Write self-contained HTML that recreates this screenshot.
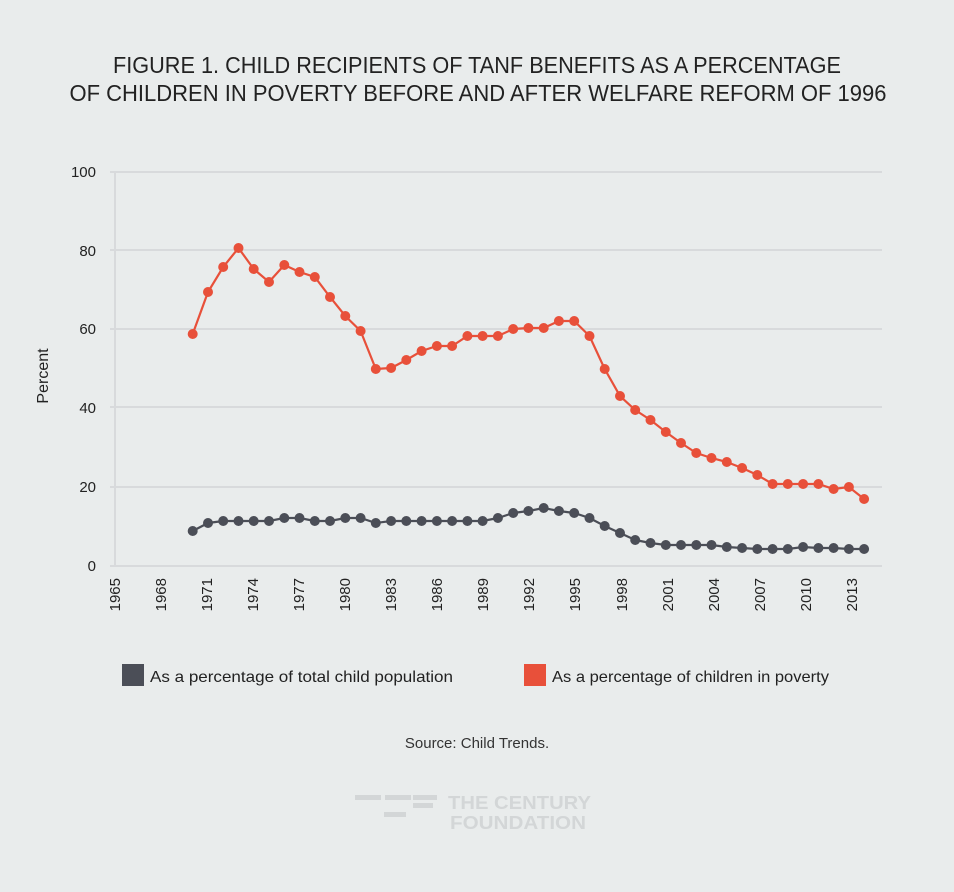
<!DOCTYPE html>
<html><head><meta charset="utf-8"><style>
html,body{margin:0;padding:0;background:#e9ecec;}
svg{display:block;font-family:"Liberation Sans",sans-serif;}
</style></head><body>
<svg width="954" height="892" viewBox="0 0 954 892" xmlns="http://www.w3.org/2000/svg">
<rect width="954" height="892" fill="#e9ecec"/>
<text x="477" y="73" text-anchor="middle" font-size="23" fill="#222" textLength="728" lengthAdjust="spacingAndGlyphs">FIGURE 1. CHILD RECIPIENTS OF TANF BENEFITS AS A PERCENTAGE</text>
<text x="478" y="101" text-anchor="middle" font-size="23" fill="#222" textLength="817" lengthAdjust="spacingAndGlyphs">OF CHILDREN IN POVERTY BEFORE AND AFTER WELFARE REFORM OF 1996</text>
<g stroke="#d8dadc" stroke-width="2">
<line x1="110" y1="172" x2="882" y2="172"/>
<line x1="110" y1="250" x2="882" y2="250"/>
<line x1="110" y1="329" x2="882" y2="329"/>
<line x1="110" y1="407" x2="882" y2="407"/>
<line x1="110" y1="487" x2="882" y2="487"/>
<line x1="110" y1="566" x2="882" y2="566"/>
<line x1="115" y1="172" x2="115" y2="566"/>
</g>
<g font-size="15" fill="#222" text-anchor="end">
<text x="96" y="177">100</text><text x="96" y="256">80</text><text x="96" y="334">60</text>
<text x="96" y="413">40</text><text x="96" y="492">20</text><text x="96" y="571">0</text>
</g>
<text transform="translate(48,376) rotate(-90)" font-size="16" text-anchor="middle" fill="#222">Percent</text>
<g font-size="15" fill="#222" text-anchor="end">
<text transform="translate(120,578) rotate(-90)">1965</text>
<text transform="translate(166,578) rotate(-90)">1968</text>
<text transform="translate(212,578) rotate(-90)">1971</text>
<text transform="translate(258,578) rotate(-90)">1974</text>
<text transform="translate(304,578) rotate(-90)">1977</text>
<text transform="translate(350,578) rotate(-90)">1980</text>
<text transform="translate(396,578) rotate(-90)">1983</text>
<text transform="translate(442,578) rotate(-90)">1986</text>
<text transform="translate(488,578) rotate(-90)">1989</text>
<text transform="translate(534,578) rotate(-90)">1992</text>
<text transform="translate(580,578) rotate(-90)">1995</text>
<text transform="translate(627,578) rotate(-90)">1998</text>
<text transform="translate(673,578) rotate(-90)">2001</text>
<text transform="translate(719,578) rotate(-90)">2004</text>
<text transform="translate(765,578) rotate(-90)">2007</text>
<text transform="translate(811,578) rotate(-90)">2010</text>
<text transform="translate(857,578) rotate(-90)">2013</text>
</g>
<g id="red" fill="#e8503a" stroke="#e8503a">
<polyline fill="none" stroke-width="2.2" points="192.7,334 208.0,292 223.2,267 238.5,248 253.7,269 269.0,282 284.3,265 299.5,272 314.8,277 330.0,297 345.3,316 360.6,331 375.8,369 391.1,368 406.3,360 421.6,351 436.9,346 452.1,346 467.4,336 482.6,336 497.9,336 513.2,329 528.4,328 543.7,328 558.9,321 574.2,321 589.5,336 604.7,369 620.0,396 635.2,410 650.5,420 665.8,432 681.0,443 696.3,453 711.5,458 726.8,462 742.1,468 757.3,475 772.6,484 787.8,484 803.1,484 818.4,484 833.6,489 848.9,487 864.1,499"/>
<g stroke="none">
<circle cx="192.7" cy="334" r="5"/><circle cx="208.0" cy="292" r="5"/><circle cx="223.2" cy="267" r="5"/><circle cx="238.5" cy="248" r="5"/><circle cx="253.7" cy="269" r="5"/><circle cx="269.0" cy="282" r="5"/><circle cx="284.3" cy="265" r="5"/><circle cx="299.5" cy="272" r="5"/><circle cx="314.8" cy="277" r="5"/><circle cx="330.0" cy="297" r="5"/><circle cx="345.3" cy="316" r="5"/><circle cx="360.6" cy="331" r="5"/><circle cx="375.8" cy="369" r="5"/><circle cx="391.1" cy="368" r="5"/><circle cx="406.3" cy="360" r="5"/><circle cx="421.6" cy="351" r="5"/><circle cx="436.9" cy="346" r="5"/><circle cx="452.1" cy="346" r="5"/><circle cx="467.4" cy="336" r="5"/><circle cx="482.6" cy="336" r="5"/><circle cx="497.9" cy="336" r="5"/><circle cx="513.2" cy="329" r="5"/><circle cx="528.4" cy="328" r="5"/><circle cx="543.7" cy="328" r="5"/><circle cx="558.9" cy="321" r="5"/><circle cx="574.2" cy="321" r="5"/><circle cx="589.5" cy="336" r="5"/><circle cx="604.7" cy="369" r="5"/><circle cx="620.0" cy="396" r="5"/><circle cx="635.2" cy="410" r="5"/><circle cx="650.5" cy="420" r="5"/><circle cx="665.8" cy="432" r="5"/><circle cx="681.0" cy="443" r="5"/><circle cx="696.3" cy="453" r="5"/><circle cx="711.5" cy="458" r="5"/><circle cx="726.8" cy="462" r="5"/><circle cx="742.1" cy="468" r="5"/><circle cx="757.3" cy="475" r="5"/><circle cx="772.6" cy="484" r="5"/><circle cx="787.8" cy="484" r="5"/><circle cx="803.1" cy="484" r="5"/><circle cx="818.4" cy="484" r="5"/><circle cx="833.6" cy="489" r="5"/><circle cx="848.9" cy="487" r="5"/><circle cx="864.1" cy="499" r="5"/>
</g></g>
<g fill="#4b4e57" stroke="#4b4e57">
<polyline fill="none" stroke-width="2.2" points="192.7,531 208.0,523 223.2,521 238.5,521 253.7,521 269.0,521 284.3,518 299.5,518 314.8,521 330.0,521 345.3,518 360.6,518 375.8,523 391.1,521 406.3,521 421.6,521 436.9,521 452.1,521 467.4,521 482.6,521 497.9,518 513.2,513 528.4,511 543.7,508 558.9,511 574.2,513 589.5,518 604.7,526 620.0,533 635.2,540 650.5,543 665.8,545 681.0,545 696.3,545 711.5,545 726.8,547 742.1,548 757.3,549 772.6,549 787.8,549 803.1,547 818.4,548 833.6,548 848.9,549 864.1,549"/>
<g stroke="none">
<circle cx="192.7" cy="531" r="5"/><circle cx="208.0" cy="523" r="5"/><circle cx="223.2" cy="521" r="5"/><circle cx="238.5" cy="521" r="5"/><circle cx="253.7" cy="521" r="5"/><circle cx="269.0" cy="521" r="5"/><circle cx="284.3" cy="518" r="5"/><circle cx="299.5" cy="518" r="5"/><circle cx="314.8" cy="521" r="5"/><circle cx="330.0" cy="521" r="5"/><circle cx="345.3" cy="518" r="5"/><circle cx="360.6" cy="518" r="5"/><circle cx="375.8" cy="523" r="5"/><circle cx="391.1" cy="521" r="5"/><circle cx="406.3" cy="521" r="5"/><circle cx="421.6" cy="521" r="5"/><circle cx="436.9" cy="521" r="5"/><circle cx="452.1" cy="521" r="5"/><circle cx="467.4" cy="521" r="5"/><circle cx="482.6" cy="521" r="5"/><circle cx="497.9" cy="518" r="5"/><circle cx="513.2" cy="513" r="5"/><circle cx="528.4" cy="511" r="5"/><circle cx="543.7" cy="508" r="5"/><circle cx="558.9" cy="511" r="5"/><circle cx="574.2" cy="513" r="5"/><circle cx="589.5" cy="518" r="5"/><circle cx="604.7" cy="526" r="5"/><circle cx="620.0" cy="533" r="5"/><circle cx="635.2" cy="540" r="5"/><circle cx="650.5" cy="543" r="5"/><circle cx="665.8" cy="545" r="5"/><circle cx="681.0" cy="545" r="5"/><circle cx="696.3" cy="545" r="5"/><circle cx="711.5" cy="545" r="5"/><circle cx="726.8" cy="547" r="5"/><circle cx="742.1" cy="548" r="5"/><circle cx="757.3" cy="549" r="5"/><circle cx="772.6" cy="549" r="5"/><circle cx="787.8" cy="549" r="5"/><circle cx="803.1" cy="547" r="5"/><circle cx="818.4" cy="548" r="5"/><circle cx="833.6" cy="548" r="5"/><circle cx="848.9" cy="549" r="5"/><circle cx="864.1" cy="549" r="5"/>
</g></g>
<rect x="122" y="664" width="22" height="22" fill="#4b4e57"/>
<text x="150" y="682" font-size="16" fill="#222" textLength="303" lengthAdjust="spacingAndGlyphs">As a percentage of total child population</text>
<rect x="524" y="664" width="22" height="22" fill="#e8503a"/>
<text x="552" y="682" font-size="16" fill="#222" textLength="277" lengthAdjust="spacingAndGlyphs">As a percentage of children in poverty</text>
<text x="477" y="748" font-size="15" fill="#333" text-anchor="middle">Source: Child Trends.</text>
<g fill="#d3d6d7">
<rect x="355" y="795" width="26" height="5"/><rect x="385" y="795" width="26" height="5"/><rect x="413" y="795" width="24" height="5"/>
<rect x="413" y="803" width="20" height="5"/><rect x="384" y="812" width="22" height="5"/>
</g>
<g font-size="18" font-weight="bold" fill="#d3d6d7">
<text x="448" y="809" textLength="143" lengthAdjust="spacingAndGlyphs">THE CENTURY</text>
<text x="450" y="829" textLength="136" lengthAdjust="spacingAndGlyphs">FOUNDATION</text>
</g>
</svg>
</body></html>
